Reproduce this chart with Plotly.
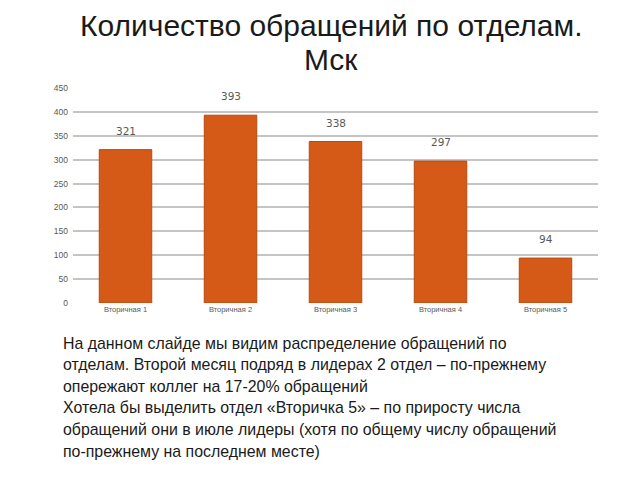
import plotly.graph_objects as go

categories = ["Вторичная 1", "Вторичная 2", "Вторичная 3", "Вторичная 4", "Вторичная 5"]
values = [321, 393, 338, 297, 94]
y_ticks = [0, 50, 100, 150, 200, 250, 300, 350, 400, 450]

title_lines = ["Количество обращений по отделам.", "Мск"]
body_lines = [
    "На данном слайде мы видим распределение обращений по",
    "отделам. Второй месяц подряд в лидерах 2 отдел – по-прежнему",
    "опережают коллег на 17-20% обращений",
    "Хотела бы выделить отдел «Вторичка 5» – по приросту числа",
    "обращений они в июле лидеры (хотя по общему числу обращений",
    "по-прежнему на последнем месте)",
]

fig = go.Figure(go.Bar(
    x=categories, y=values,
    marker=dict(color="#d55a17", line=dict(color="#b84a10", width=1)),
    cliponaxis=False,
))

L, R, T, B = 73, 42, 88, 177
W, H = 640, 480
fig.update_layout(
    width=W, height=H,
    margin=dict(l=L, r=R, t=T, b=B),
    paper_bgcolor="white", plot_bgcolor="white",
    bargap=0.5, showlegend=False,
    font=dict(family="Liberation Sans"),
    xaxis=dict(tickfont=dict(size=7.5, color="#595959"), showgrid=False,
               showline=False, ticks=""),
    yaxis=dict(range=[0, 450], tickvals=y_ticks, tickfont=dict(size=8.5, color="#595959"),
               showgrid=True, gridcolor="#c4c4c4", gridwidth=1.5, zeroline=False,
               showline=False, ticklabelstandoff=4),
)

pw, ph = W - L - R, H - T - B
def px(x):
    return (x - L) / pw
def py(y):
    return (H - B - y) / ph

ann = []
for c, v in zip(categories, values):
    ann.append(dict(text=str(v), x=c, y=v, xref="x", yref="y", showarrow=False,
                    yshift=19, font=dict(size=10.5, color="#595959", family="DejaVu Sans"),
                    xanchor="center", yanchor="middle"))
ann.append(dict(text=title_lines[0], x=px(331), y=py(25), xref="paper", yref="paper",
                showarrow=False, font=dict(size=30, color="#1a1a1a", family="Liberation Sans"),
                xanchor="center", yanchor="middle"))
ann.append(dict(text=title_lines[1], x=px(331), y=py(59), xref="paper", yref="paper",
                showarrow=False, font=dict(size=30, color="#1a1a1a", family="Liberation Sans"),
                xanchor="center", yanchor="middle"))
for i, line in enumerate(body_lines):
    ann.append(dict(text=line, x=px(61), y=py(343 + i * 21.6), xref="paper", yref="paper",
                    showarrow=False, font=dict(size=15.9, color="#1a1a1a", family="Liberation Sans"),
                    xanchor="left", yanchor="middle", align="left"))
fig.update_layout(annotations=ann)

fig.write_html("out.html")
